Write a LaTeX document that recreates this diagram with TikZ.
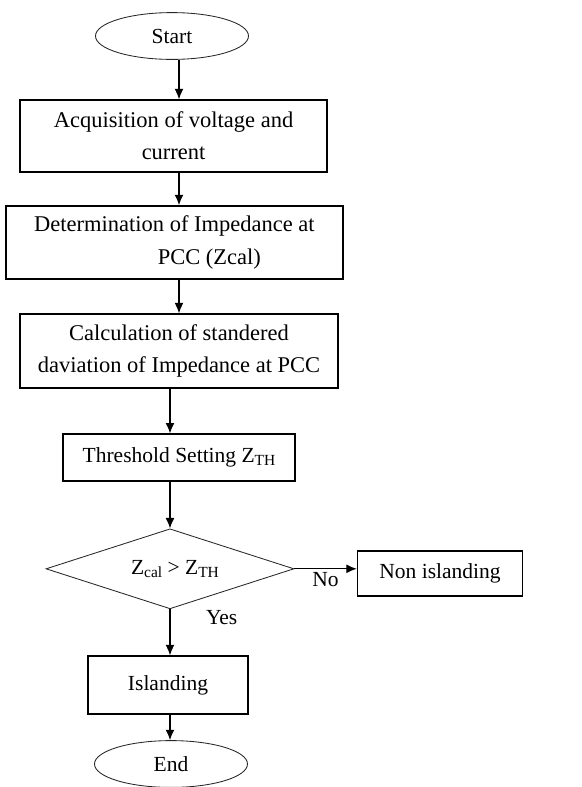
\documentclass[tikz,border=0pt]{standalone}
\usepackage{fontspec}
\setmainfont{Liberation Serif}
\usetikzlibrary{shapes.geometric,arrows.meta}
\newcommand{\bigtext}{\fontsize{16}{23}\selectfont}
\newcommand{\midtext}{\fontsize{15.3}{20}\selectfont}
\newcommand{\zsub}[1]{\raisebox{-0.25ex}{\fontsize{11}{12}\selectfont #1}}
\tikzset{
  process/.style={rectangle,draw,line width=1pt,align=center,inner sep=0pt},
  terminal/.style={ellipse,draw=black!85,line width=0.6pt,inner sep=0pt,
    minimum width=3.825cm,minimum height=1.17cm,font=\midtext},
  decision/.style={diamond,draw=black!85,line width=0.6pt,inner sep=0pt,
    aspect=3.15,minimum width=6.2cm,minimum height=2cm,font=\midtext},
  flow/.style={draw,line width=0.8pt,-{Latex[length=2.6mm,width=2.2mm]}}
}

\begin{document}
\begin{tikzpicture}
  \useasboundingbox (0,0) rectangle (14.55,-19.675);
  \coordinate (col1) at (4.475,0);
  \coordinate (col2) at (4.25,0);
  % main chain
  \node[terminal] (start) at (4.3,-0.9) {Start};
  \node[process,minimum width=7.675cm,minimum height=1.8cm,font=\bigtext]
    (acq) at (4.34,-3.4) {Acquisition of voltage and\\current};
  \node[process,minimum width=8.425cm,minimum height=1.825cm,font=\bigtext]
    (zcal) at (4.36,-6.06) {Determination of Impedance at\\\hspace*{1.75cm}PCC (Zcal)};
  \node[process,minimum width=7.95cm,minimum height=1.85cm,font=\bigtext]
    (sdev) at (4.475,-8.775) {Calculation of standered\\daviation of Impedance at PCC};
  \node[process,minimum width=5.8cm,minimum height=1.175cm,font=\midtext]
    (thr) at (4.475,-11.44) {Threshold Setting Z\zsub{TH}};
  \node[decision] (test) at (4.25,-14.22) {\hspace*{0.25cm}Z\zsub{cal} > Z\zsub{TH}};
  \node[process,minimum width=4.125cm,minimum height=1.125cm,font=\midtext]
    (non) at (11.0,-14.34) {Non islanding};
  \node[process,minimum width=4cm,minimum height=1.45cm,font=\midtext]
    (island) at (4.2,-17.125) {Islanding};
  \node[terminal] (end) at (4.275,-19.1) {End};
  % connectors
  \draw[flow] (start.south -| col1) -- (acq.north -| col1);
  \draw[flow] (acq.south -| col1) -- (zcal.north -| col1);
  \draw[flow] (zcal.south -| col1) -- (sdev.north -| col1);
  \draw[flow] (sdev.south -| col2) -- (thr.north -| col2);
  \draw[flow] (thr.south -| col2) -- (test.north);
  \draw[flow] (test.east) -- node[below,inner sep=2pt,font=\midtext] {No} (test.east -| non.west);
  \draw[flow] (test.south) -- node[pos=0.18,right=0.77cm,font=\midtext] {Yes} (island.north -| col2);
  \draw[flow] (island.south -| col2) -- (end.north -| col2);
\end{tikzpicture}
\end{document}
